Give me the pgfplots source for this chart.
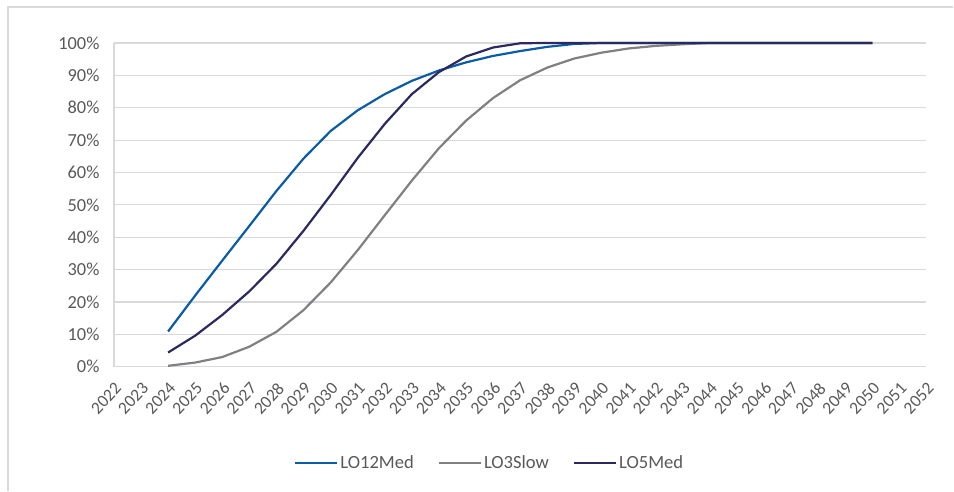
\documentclass[border=0pt]{standalone}
\usepackage{pgfplots}
\pgfplotsset{compat=1.18}
\usepackage{fontspec}
\setmainfont{Carlito}
\definecolor{cblue}{HTML}{0B5CA6}
\definecolor{cgray}{HTML}{7F8083}
\definecolor{cnavy}{HTML}{2A2960}
\definecolor{cgrid}{HTML}{D9D9D9}
\definecolor{ctext}{HTML}{595959}
\begin{document}
\begin{tikzpicture}
\path (0pt,0pt) rectangle (954pt,491pt);
\draw[cgrid,line width=1.2pt] (8pt,0pt) -- (8pt,484pt) -- (954pt,484pt);
\begin{axis}[
  at={(114pt,124pt)}, anchor=south west,
  scale only axis, width=813pt, height=324pt,
  xmin=2022, xmax=2052, ymin=0, ymax=100,
  xtick={2022,2023,...,2052},
  ytick={0,10,...,100},
  xticklabel shift=13pt,
  xticklabel style={/pgf/number format/1000 sep={}, rotate=47, anchor=north east, font=\fontsize{17.5}{20}\selectfont, text=ctext, inner sep=1pt},
  yticklabel={\pgfmathprintnumber{\tick}\%},
  yticklabel style={font=\fontsize{18.4}{21}\selectfont, text=ctext, xshift=-11pt},
  /pgf/number format/assume math mode=true,
  major tick length=0pt,
  ymajorgrids, grid style={cgrid, line width=1.2pt},
  axis line style={draw=none},
  axis x line*=bottom, axis y line*=left,
  legend columns=3,
  legend style={at={(0.4625,-0.296)}, anchor=center, draw=none, font=\fontsize{18.6}{21}\selectfont, text=ctext,
    /tikz/every even column/.append style={column sep=22pt}},
  legend image code/.code={\draw[#1, line width=2.2pt] (0pt,0pt) -- (42pt,0pt);},
  clip=false,
]
\draw[cgrid, line width=1.2pt] (axis cs:2022,0) -- (axis cs:2022,100);
\draw[cgrid, line width=1.2pt] (axis cs:2022,0) -- (axis cs:2052,0);
\addplot[cblue, line width=2.2pt] coordinates {
(2024,10.9)(2025,22)(2026,32.8)(2027,43.5)(2028,54.3)(2029,64.3)(2030,72.8)(2031,79.2)(2032,84.2)(2033,88.3)(2034,91.5)(2035,94)(2036,96)(2037,97.5)(2038,98.8)(2039,99.7)(2040,100)(2041,100)(2042,100)(2043,100)(2044,100)(2045,100)(2046,100)(2047,100)(2048,100)(2049,100)(2050,100)};
\addlegendentry{LO12Med}
\addplot[cgray, line width=2.2pt] coordinates {
(2024,0.3)(2025,1.3)(2026,3.0)(2027,6.2)(2028,10.8)(2029,17.5)(2030,26)(2031,36)(2032,46.8)(2033,57.5)(2034,67.5)(2035,76)(2036,83)(2037,88.5)(2038,92.4)(2039,95.2)(2040,97)(2041,98.3)(2042,99.1)(2043,99.6)(2044,100)(2045,100)(2046,100)(2047,100)(2048,100)(2049,100)(2050,100)};
\addlegendentry{LO3Slow}
\addplot[cnavy, line width=2.2pt] coordinates {
(2024,4.4)(2025,9.6)(2026,16)(2027,23.3)(2028,31.8)(2029,42)(2030,53)(2031,64.5)(2032,75)(2033,84.2)(2034,91)(2035,95.8)(2036,98.6)(2037,99.9)(2038,100)(2039,100)(2040,100)(2041,100)(2042,100)(2043,100)(2044,100)(2045,100)(2046,100)(2047,100)(2048,100)(2049,100)(2050,100)};
\addlegendentry{LO5Med}
\end{axis}
\end{tikzpicture}
\end{document}
